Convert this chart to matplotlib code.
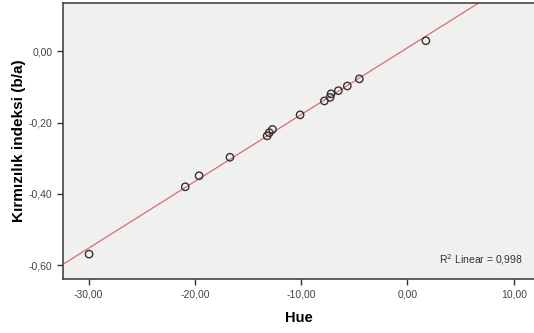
import numpy as np
import matplotlib
matplotlib.use("Agg")
import matplotlib.pyplot as plt
from matplotlib.ticker import FuncFormatter

plt.rcParams['font.family'] = ['Liberation Sans', 'DejaVu Sans']

# Hue vs Kirmizilik indeksi (b/a)
hue = [-29.95, -20.9, -19.6, -16.7, -13.2, -13.0, -12.7, -10.1,
       -7.82, -7.28, -7.19, -6.50, -5.66, -4.53, 1.73]
kirmizilik = [-0.569, -0.380, -0.349, -0.297, -0.237, -0.228, -0.219, -0.178,
              -0.139, -0.129, -0.119, -0.110, -0.097, -0.077, 0.030]
x_ticks = [-30, -20, -10, 0, 10]
y_ticks = [-0.6, -0.4, -0.2, 0.0]

fig = plt.figure(figsize=(5.34, 3.33), dpi=100)
ax = fig.add_axes([0.118, 0.162, 0.882, 0.830])
ax.set_facecolor('#f0f0f0')

xlim = (-32.4, 11.9)
ylim = (-0.639, 0.137)

# linear fit line over the whole x range
slope, icpt = np.polyfit(hue, kirmizilik, 1)
xs = np.array(xlim)
ax.plot(xs, slope * xs + icpt, color='#e06a6a', lw=0.9, zorder=2)

ax.scatter(hue, kirmizilik, s=28, facecolors='none', edgecolors='#333333',
           linewidths=1.0, zorder=3)

ax.set_xlim(xlim)
ax.set_ylim(ylim)
ax.set_xticks(x_ticks)
ax.set_yticks(y_ticks)
comma = FuncFormatter(lambda v, p: f"{v:.2f}".replace('.', ','))
ax.xaxis.set_major_formatter(comma)
ax.yaxis.set_major_formatter(comma)
ax.tick_params(direction='out', length=4, width=1, colors='#333333',
               labelsize=7.5, labelcolor='#444444')

for s in ['left', 'bottom', 'top']:
    ax.spines[s].set_color('#444444')
    ax.spines[s].set_linewidth(1.2)
ax.spines['right'].set_visible(False)

ax.set_xlabel('Hue', fontsize=10.5, fontweight='bold', labelpad=8)
ax.set_ylabel('Kırmızılık indeksi (b/a)', fontsize=11, fontweight='bold', labelpad=2)

ax.text(0.975, 0.07, r'R$^2$ Linear = 0,998', transform=ax.transAxes,
        ha='right', va='center', fontsize=7.5, color='#333333')

fig.savefig('out.png', dpi=100)
